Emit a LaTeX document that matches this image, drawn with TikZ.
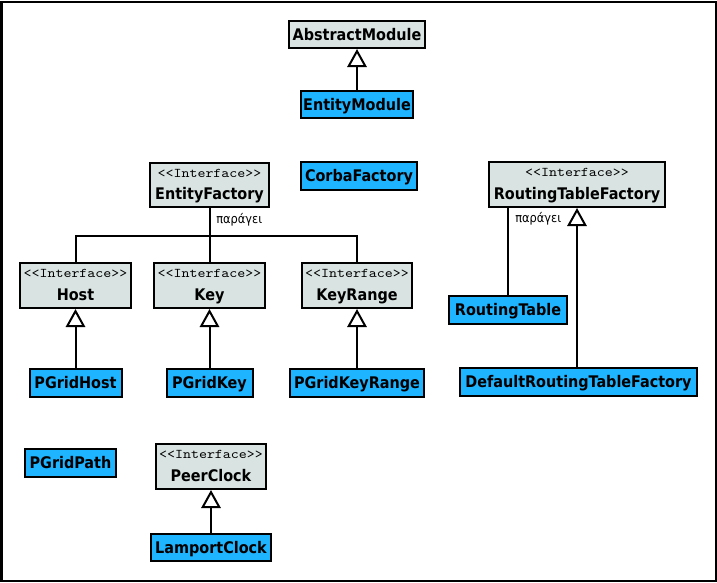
\documentclass[tikz,border=0pt]{standalone}
\usepackage{fontspec}
\setmainfont{DejaVu Sans Condensed}
\newfontfamily\stfont{Latin Modern Mono}[FakeStretch=1.14]
\usetikzlibrary{arrows.meta}
\newdimen\pxu \pxu=0.75pt
\definecolor{ifill}{HTML}{D9E4E2}
\definecolor{cfill}{HTML}{1EB4FF}
\tikzset{
 box/.style={draw=black, line width=1.5pt, inner sep=0pt, font=\bfseries\fontsize{12}{13}\selectfont, text height=8.75pt, text depth=0pt},
 cls/.style={box, fill=cfill},
 iface/.style={box, fill=ifill},
 stereo/.style={font=\stfont\fontsize{10}{11}\selectfont, inner sep=0pt, text height=6.1pt, text depth=0pt},
 iname/.style={font=\bfseries\fontsize{12}{13}\selectfont, inner sep=0pt, text height=8.75pt, text depth=0pt},
 conn/.style={line width=1.5pt},
 inh/.style={conn, -{Triangle[open, length=13.5pt, width=14.5pt, fill=white]}},
 lbl/.style={font=\fontsize{9.5}{10}\selectfont, inner sep=0pt, anchor=west, text height=5.2pt, text depth=0pt},
}
\newcommand\mkiface[6]{%
 \node[iface, minimum width=#4\pxu, minimum height=#5\pxu] (#1) at (#2,#3) {};
 \node[stereo] (#1-st) at ([yshift=-11.5\pxu]#1.north) {<\kern0pt<Interface>\kern0pt>};
 \node[iname] (#1-nm) at ([yshift=14\pxu]#1.south) {#6};
}
\begin{document}
\begin{tikzpicture}[x=0.75pt, y=-0.75pt]
\useasboundingbox (0,0) rectangle (717,582);
\draw[line width=1.5pt] (1.5,1.5) rectangle (715.5,580.5);
% top
\node[iface, minimum width=136\pxu, minimum height=27\pxu] (am) at (357,34.5) {AbstractModule};
\node[cls, minimum width=112\pxu, minimum height=27\pxu] (em) at (357,104.5) {EntityModule};
\draw[inh] (em.north) -- (am.south);
% factories
\mkiface{ef}{209.5}{185}{119}{44}{EntityFactory}
\node[cls, minimum width=116\pxu, minimum height=28\pxu] (cf) at (359,176) {CorbaFactory};
\mkiface{rtf}{577}{184.5}{176}{45}{RoutingTableFactory}
% interfaces
\mkiface{host}{75.5}{285.5}{111}{45}{Host}
\mkiface{key}{209.5}{285.5}{111}{45}{Key}
\mkiface{kr}{357}{285.5}{110}{45}{KeyRange}
\coordinate (bus) at (0,236);
\draw[conn] (ef.south) -- (key.north);
\draw[conn] (host.north) |- (kr.north |- bus) -- (kr.north);
\node[lbl] (l1) at (216,220) {παράγει};
% implementations
\node[cls, minimum width=92\pxu, minimum height=28\pxu] (ph) at (75.5,383) {PGridHost};
\node[cls, minimum width=86\pxu, minimum height=28\pxu] (pk) at (209.5,383) {PGridKey};
\node[cls, minimum width=134\pxu, minimum height=28\pxu] (pkr) at (357,383) {PGridKeyRange};
\draw[inh] (ph.north) -- (host.south);
\draw[inh] (pk.north) -- (key.south);
\draw[inh] (pkr.north) -- (kr.south);
% routing
\node[cls, minimum width=118\pxu, minimum height=28\pxu] (rt) at (508,310) {RoutingTable};
\node[cls, minimum width=237\pxu, minimum height=28\pxu] (drtf) at (578.5,382) {DefaultRoutingTableFactory};
\draw[conn] (rt.north) -- (rt.north |- rtf.south);
\node[lbl] (l2) at (515,219) {παράγει};
\draw[inh] (rtf.south |- drtf.north) -- (rtf.south);
% bottom
\node[cls, minimum width=91\pxu, minimum height=28\pxu] (pp) at (70.5,463) {PGridPath};
\mkiface{pc}{211}{466.5}{110}{45}{PeerClock}
\node[cls, minimum width=120\pxu, minimum height=27\pxu] (lc) at (211,547.5) {LamportClock};
\draw[inh] (lc.north) -- (pc.south);
\end{tikzpicture}
\end{document}
